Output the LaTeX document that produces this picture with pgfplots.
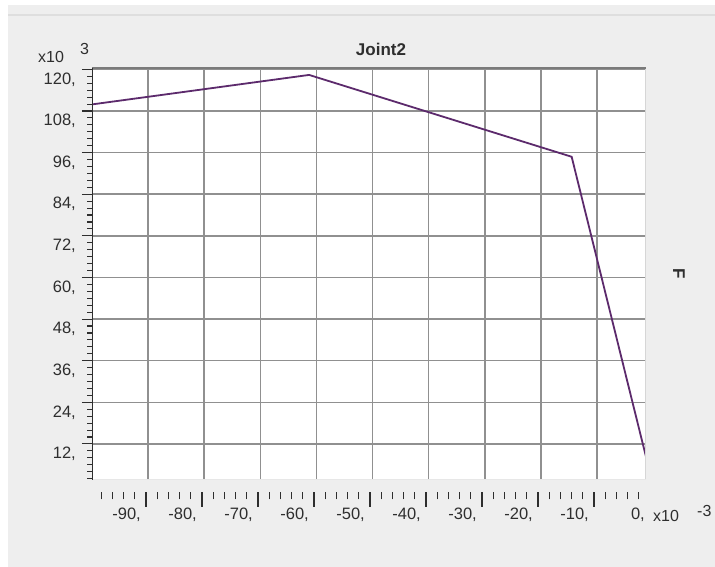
\documentclass[border=0pt]{standalone}
\usepackage{fontspec}
\setmainfont{Liberation Sans}
\usepackage{pgfplots}
\pgfplotsset{compat=1.18}

\definecolor{panel}{HTML}{EEEEEE}
\definecolor{sepline}{HTML}{DEDEDE}
\definecolor{gridgray}{HTML}{909090}
\definecolor{framegray}{HTML}{7A7A7A}
\definecolor{edgegray}{HTML}{D6D6D6}
\definecolor{inkgray}{HTML}{2E2E2E}
\definecolor{curve}{HTML}{5C2A6C}

\newcommand{\ticksize}{\fontsize{16.5}{19}\selectfont}
\newcommand{\zerolabel}{0,}

\begin{document}
\begin{tikzpicture}
% window background
\path[use as bounding box] (0pt,0pt) rectangle (715pt,567pt);
\fill[white] (0pt,0pt) rectangle (715pt,567pt);
\fill[panel] (8pt,0pt) rectangle (715pt,562pt);
\fill[sepline] (8pt,550.5pt) rectangle (715pt,552.5pt);

% plot area with grid, y scale and the force curve
\begin{axis}[
  at={(92pt,87pt)}, anchor=south west,
  scale only axis, width=554pt, height=412pt,
  xmin=-100, xmax=-1.25, ymin=1.6, ymax=120.4,
  axis background/.style={fill=white},
  axis line style={draw=none},
  xtick={-90,-80,...,-10}, xticklabels={},
  x tick style={draw=none},
  ytick={12,24,...,120},
  yticklabels={{12,},{24,},{36,},{48,},{60,},{72,},{84,},{96,},{108,},{120,}},
  minor ytick={2,4,...,118},
  ytick pos=left, tick align=outside,
  major tick length=10pt, minor tick length=5pt,
  y tick style={inkgray, line width=1.1pt},
  yticklabel style={font=\ticksize, text=inkgray, anchor=north east,
    inner sep=0pt, xshift=-6pt, yshift=-3pt},
  grid=major,
  major grid style={gridgray, line width=1.6pt},
  clip=true,
]
\addplot[curve, line width=1.8pt] coordinates {
  (-100,109.9) (-61.3,118.4) (-14.5,94.8) (-1.25,8.3)
};
\draw[edgegray, line width=1.2pt] (rel axis cs:1,0) -- (rel axis cs:1,1);
\draw[edgegray!60, line width=1pt] (rel axis cs:0,0) -- (rel axis cs:1,0);
\draw[framegray, line width=3pt] (rel axis cs:0,1) -- (rel axis cs:1,1);
\draw[inkgray, line width=1.4pt] (rel axis cs:0,0) -- (rel axis cs:0,1);
\end{axis}

% x scale ruler below the plot
\begin{axis}[
  at={(90pt,75pt)}, anchor=south west,
  scale only axis, width=560pt, height=1pt,
  xmin=-100, xmax=0, ymin=0, ymax=1,
  axis x line=bottom, hide y axis,
  x axis line style={draw=none},
  tick align=outside,
  xtick={-90,-80,...,-10},
  xticklabels={{-90,},{-80,},{-70,},{-60,},{-50,},{-40,},{-30,},{-20,},{-10,}},
  minor xtick={-98,-96,...,-2},
  extra x ticks={0}, extra x tick labels={\zerolabel},
  extra x tick style={xtick style={draw=none}},
  major tick length=15pt, minor tick length=7.5pt,
  x tick style={inkgray, line width=1.2pt},
  xticklabel style={font=\ticksize, text=inkgray, anchor=north east,
    inner sep=0pt, xshift=-5pt, yshift=-1pt},
]
\addplot[draw=none] coordinates {(-50,0.5)};
\end{axis}

% titles and scale factors
\node[font=\bfseries\fontsize{17}{20}\selectfont, text=inkgray, anchor=base]
  at (381pt,511pt) {Joint2};
\node[font=\fontsize{16}{19}\selectfont, text=inkgray, anchor=base west, inner sep=0pt]
  at (38pt,504pt) {x10};
\node[font=\fontsize{16}{19}\selectfont, text=inkgray, anchor=base west, inner sep=0pt]
  at (80pt,512pt) {3};
\node[font=\fontsize{16}{19}\selectfont, text=inkgray, anchor=base west, inner sep=0pt]
  at (653pt,45pt) {x10};
\node[font=\fontsize{16}{19}\selectfont, text=inkgray, anchor=base west, inner sep=0pt]
  at (697pt,50pt) {-3};
\node[font=\bfseries\fontsize{17}{20}\selectfont, text=inkgray, rotate=-90]
  at (679pt,293pt) {F};
\end{tikzpicture}
\end{document}
